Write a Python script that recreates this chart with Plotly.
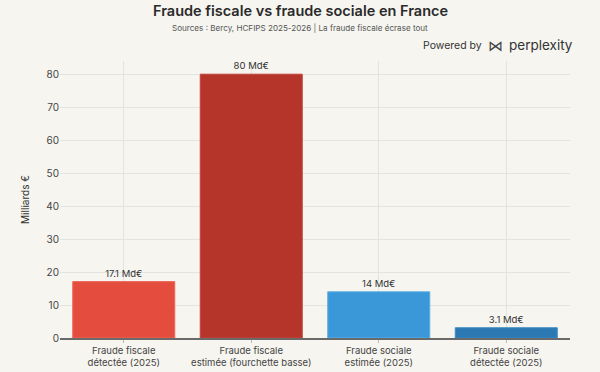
import plotly.graph_objects as go

categories = ["Fraude fiscale<br>détectée (2025)", "Fraude fiscale<br>estimée (fourchette basse)",
              "Fraude sociale<br>estimée (2025)", "Fraude sociale<br>détectée (2025)"]
values = [17.1, 80, 14, 3.1]
labels = ["17.1 Md€", "80 Md€", "14 Md€", "3.1 Md€"]
colors = ["#e44d3d", "#b5352a", "#3a97d8", "#2b78b2"]
line_colors = ["#ec6557", "#c2433a", "#58ace4", "#3d8ac2"]

bg = "#f6f5f0"
W, H = 600, 372
ML, MR, MT, MB = 60, 30, 61, 34

fig = go.Figure(go.Bar(
    x=categories, y=values, text=labels, textposition="outside",
    marker=dict(color=colors, line=dict(color=line_colors, width=1)),
    textfont=dict(size=9.5, color="#333", family="Inter, Roboto, sans-serif"),
    cliponaxis=False, width=0.8, hoverinfo="skip",
))

plot_h = H - MT - MB
plot_w = W - ML - MR


def px_x(x):
    return (x - ML) / plot_w


def px_y(y):
    return (H - MB - y) / plot_h


fig.update_layout(
    width=W, height=H, paper_bgcolor=bg, plot_bgcolor=bg,
    margin=dict(l=ML, r=MR, t=MT, b=MB, autoexpand=False),
    font=dict(family="Inter, Roboto, sans-serif", color="#444"),
    showlegend=False,
    annotations=[
        dict(text="Fraude fiscale vs fraude sociale en France", x=px_x(300), y=px_y(10),
             xref="paper", yref="paper", showarrow=False,
             font=dict(size=14.5, color="#2a2a2a", weight=600), xanchor="center", yanchor="middle"),
        dict(text="Sources : Bercy, HCFIPS 2025-2026 | La fraude fiscale écrase tout",
             x=px_x(300), y=px_y(28), xref="paper", yref="paper", showarrow=False,
             font=dict(size=8.1, color="#555"), xanchor="center", yanchor="middle"),
        dict(text="Powered by", x=px_x(484), y=px_y(46), xref="paper", yref="paper", showarrow=False,
             font=dict(size=10.5, color="#333"), xanchor="right", yanchor="middle"),
        dict(text="⋈", x=px_x(495.5), y=px_y(46), xref="paper", yref="paper", showarrow=False,
             font=dict(size=15, color="#444"), xanchor="center", yanchor="middle"),
        dict(text="perplexity", x=px_x(507), y=px_y(45), xref="paper", yref="paper", showarrow=False,
             font=dict(size=13.5, color="#333"), xanchor="left", yanchor="middle"),
    ],
    xaxis=dict(showgrid=True, gridcolor="#e3e3e0", gridwidth=1, tickfont=dict(size=9.5, color="#444"),
               showline=True, linecolor="#6a6a6a", linewidth=1.5, ticks="outside", ticklen=3,
               tickcolor="#bbbbbb", fixedrange=True, automargin=False),
    yaxis=dict(range=[0, 84], dtick=10, showgrid=True, gridcolor="#e3e3e0", zeroline=False,
               tickfont=dict(size=10, color="#444"), automargin=False, fixedrange=True,
               title=dict(text="Milliards €", font=dict(size=10, color="#333"), standoff=14)),
)

fig.write_html("out.html", config={"displayModeBar": False, "staticPlot": True},
               post_script="document.body.style.margin='0';document.body.style.background='#f6f5f0';")
